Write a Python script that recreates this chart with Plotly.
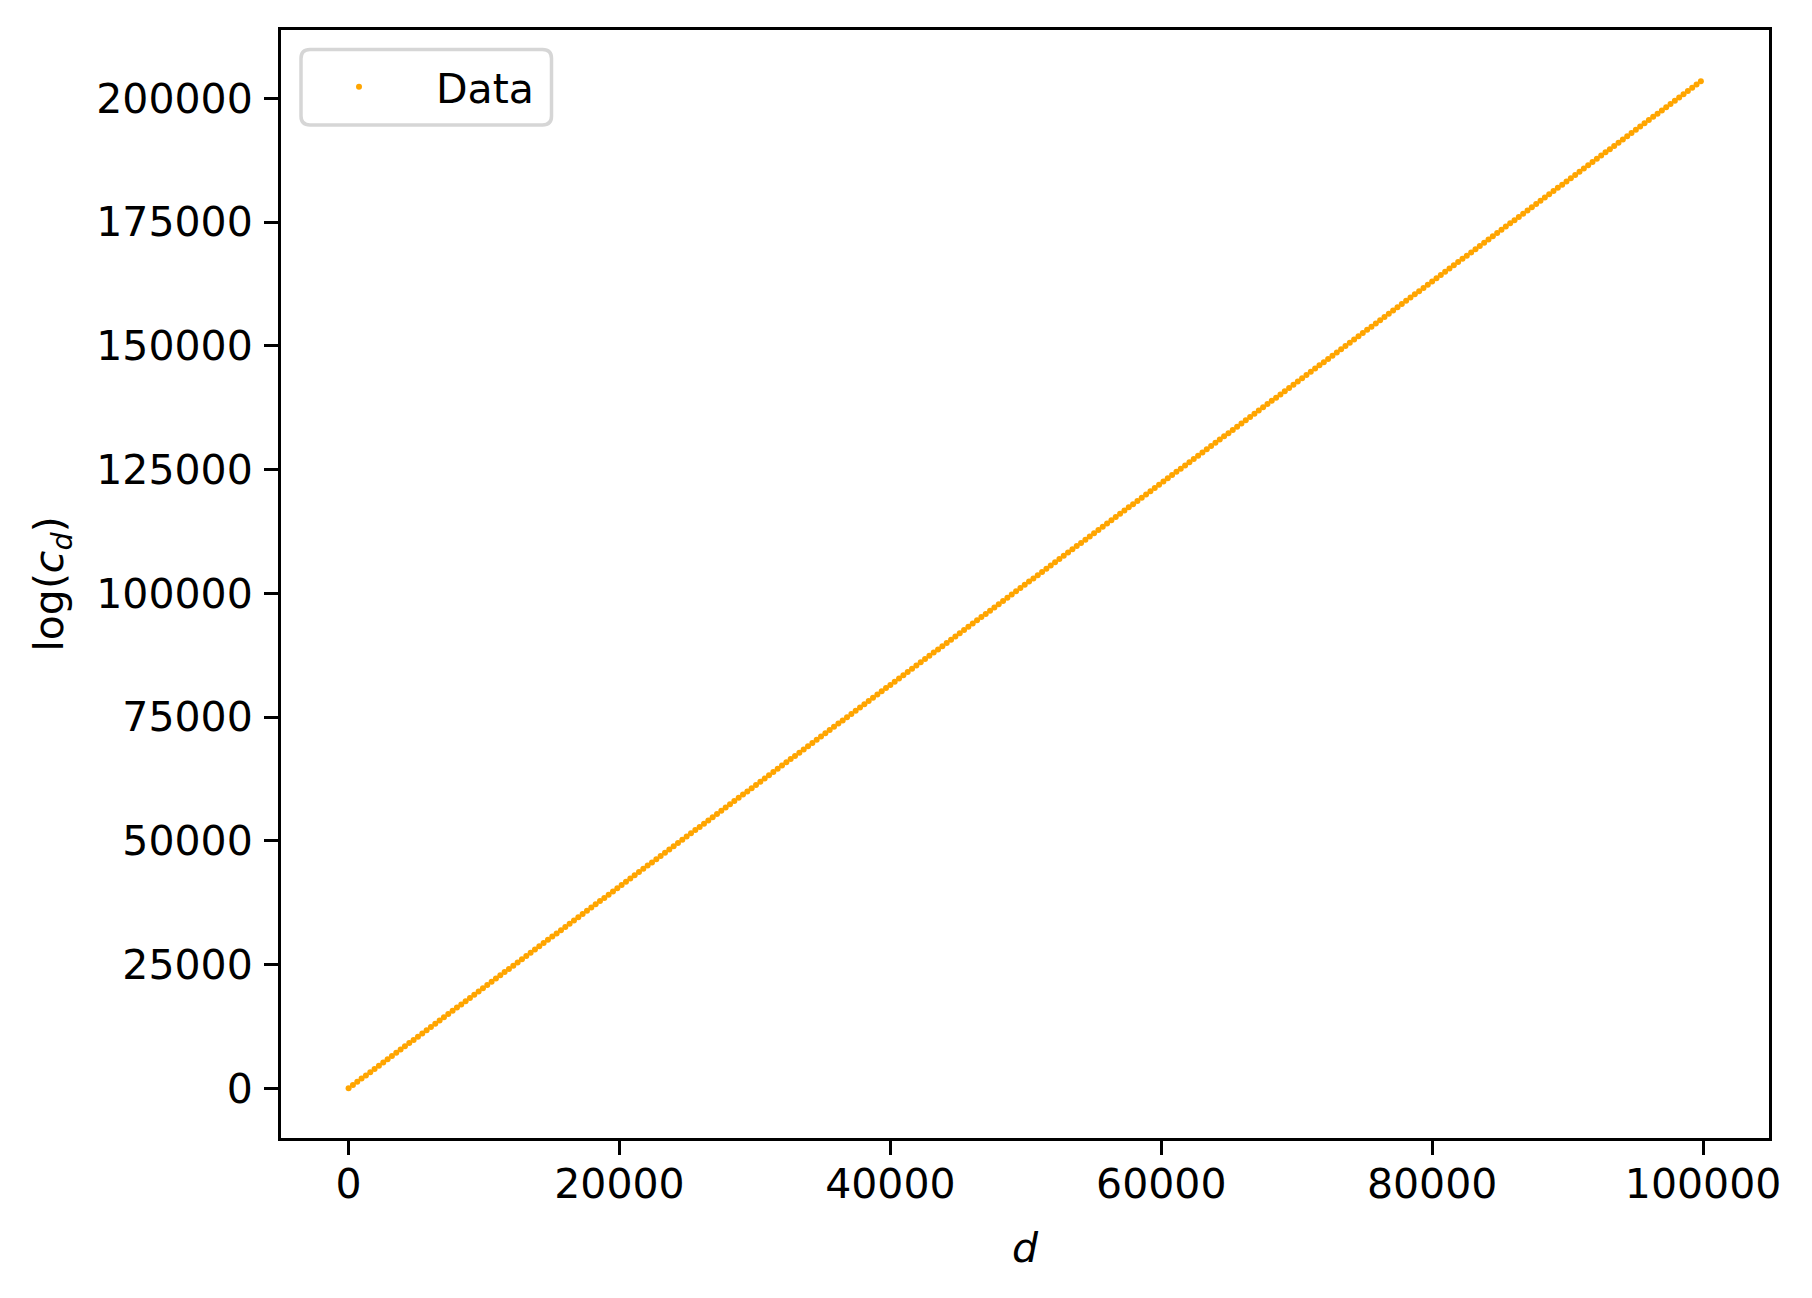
import plotly.graph_objects as go

# ---- data ----
d_values = [
    0, 320, 640, 960, 1280, 1600, 1920, 2240, 2560, 2880,
    3200, 3520, 3840, 4160, 4480, 4800, 5120, 5440, 5760, 6080,
    6400, 6720, 7040, 7360, 7680, 8000, 8320, 8640, 8960, 9280,
    9600, 9920, 10240, 10560, 10880, 11200, 11520, 11840, 12160, 12480,
    12800, 13120, 13440, 13760, 14080, 14400, 14720, 15040, 15360, 15680,
    16000, 16320, 16640, 16960, 17280, 17600, 17920, 18240, 18560, 18880,
    19200, 19520, 19840, 20160, 20480, 20800, 21120, 21440, 21760, 22080,
    22400, 22720, 23040, 23360, 23680, 24000, 24320, 24640, 24960, 25280,
    25600, 25920, 26240, 26560, 26880, 27200, 27520, 27840, 28160, 28480,
    28800, 29120, 29440, 29760, 30080, 30400, 30720, 31040, 31360, 31680,
    32000, 32320, 32640, 32960, 33280, 33600, 33920, 34240, 34560, 34880,
    35200, 35520, 35840, 36160, 36480, 36800, 37120, 37440, 37760, 38080,
    38400, 38720, 39040, 39360, 39680, 40000, 40320, 40640, 40960, 41280,
    41600, 41920, 42240, 42560, 42880, 43200, 43520, 43840, 44160, 44480,
    44800, 45120, 45440, 45760, 46080, 46400, 46720, 47040, 47360, 47680,
    48000, 48320, 48640, 48960, 49280, 49600, 49920, 50240, 50560, 50880,
    51200, 51520, 51840, 52160, 52480, 52800, 53120, 53440, 53760, 54080,
    54400, 54720, 55040, 55360, 55680, 56000, 56320, 56640, 56960, 57280,
    57600, 57920, 58240, 58560, 58880, 59200, 59520, 59840, 60160, 60480,
    60800, 61120, 61440, 61760, 62080, 62400, 62720, 63040, 63360, 63680,
    64000, 64320, 64640, 64960, 65280, 65600, 65920, 66240, 66560, 66880,
    67200, 67520, 67840, 68160, 68480, 68800, 69120, 69440, 69760, 70080,
    70400, 70720, 71040, 71360, 71680, 72000, 72320, 72640, 72960, 73280,
    73600, 73920, 74240, 74560, 74880, 75200, 75520, 75840, 76160, 76480,
    76800, 77120, 77440, 77760, 78080, 78400, 78720, 79040, 79360, 79680,
    80000, 80320, 80640, 80960, 81280, 81600, 81920, 82240, 82560, 82880,
    83200, 83520, 83840, 84160, 84480, 84800, 85120, 85440, 85760, 86080,
    86400, 86720, 87040, 87360, 87680, 88000, 88320, 88640, 88960, 89280,
    89600, 89920, 90240, 90560, 90880, 91200, 91520, 91840, 92160, 92480,
    92800, 93120, 93440, 93760, 94080, 94400, 94720, 95040, 95360, 95680,
    96000, 96320, 96640, 96960, 97280, 97600, 97920, 98240, 98560, 98880,
    99200, 99520, 99840,
]

log_c_values = [
    0, 652, 1304, 1956, 2608, 3260, 3912, 4564, 5216, 5868,
    6520, 7172, 7824, 8476, 9128, 9780, 10432, 11084, 11736, 12388,
    13040, 13692, 14344, 14996, 15648, 16300, 16952, 17604, 18256, 18908,
    19560, 20212, 20864, 21516, 22168, 22820, 23472, 24124, 24776, 25428,
    26080, 26732, 27384, 28036, 28688, 29340, 29992, 30644, 31296, 31948,
    32600, 33252, 33904, 34556, 35208, 35860, 36512, 37164, 37816, 38468,
    39120, 39772, 40424, 41076, 41728, 42380, 43032, 43684, 44336, 44988,
    45640, 46292, 46944, 47596, 48248, 48900, 49552, 50204, 50856, 51508,
    52160, 52812, 53464, 54116, 54768, 55420, 56072, 56724, 57376, 58028,
    58680, 59332, 59984, 60636, 61288, 61940, 62592, 63244, 63896, 64548,
    65200, 65852, 66504, 67156, 67808, 68460, 69112, 69764, 70416, 71068,
    71720, 72372, 73024, 73676, 74328, 74980, 75632, 76284, 76936, 77588,
    78240, 78892, 79544, 80196, 80848, 81500, 82152, 82804, 83456, 84108,
    84760, 85412, 86064, 86716, 87368, 88020, 88672, 89324, 89976, 90628,
    91280, 91932, 92584, 93236, 93888, 94540, 95192, 95844, 96496, 97148,
    97800, 98452, 99104, 99756, 100408, 101060, 101712, 102364, 103016, 103668,
    104320, 104972, 105624, 106276, 106928, 107580, 108232, 108884, 109536, 110188,
    110840, 111492, 112144, 112796, 113448, 114100, 114752, 115404, 116056, 116708,
    117360, 118012, 118664, 119316, 119968, 120620, 121272, 121924, 122576, 123228,
    123880, 124532, 125184, 125836, 126488, 127140, 127792, 128444, 129096, 129748,
    130400, 131052, 131704, 132356, 133008, 133660, 134312, 134964, 135616, 136268,
    136920, 137572, 138224, 138876, 139528, 140180, 140832, 141484, 142136, 142788,
    143440, 144092, 144744, 145396, 146048, 146700, 147352, 148004, 148656, 149308,
    149960, 150612, 151264, 151916, 152568, 153220, 153872, 154524, 155176, 155828,
    156480, 157132, 157784, 158436, 159088, 159740, 160392, 161044, 161696, 162348,
    163000, 163652, 164304, 164956, 165608, 166260, 166912, 167564, 168216, 168868,
    169520, 170172, 170824, 171476, 172128, 172780, 173432, 174084, 174736, 175388,
    176040, 176692, 177344, 177996, 178648, 179300, 179952, 180604, 181256, 181908,
    182560, 183212, 183864, 184516, 185168, 185820, 186472, 187124, 187776, 188428,
    189080, 189732, 190384, 191036, 191688, 192340, 192992, 193644, 194296, 194948,
    195600, 196252, 196904, 197556, 198208, 198860, 199512, 200164, 200816, 201468,
    202120, 202772, 203424,
]

x_ticks = [0, 20000, 40000, 60000, 80000, 100000]
y_ticks = [0, 25000, 50000, 75000, 100000, 125000, 150000, 175000, 200000]
series_name = "Data"

# ---- layout geometry (pixels, in page coordinates; page body has 8px margin) ----
OFF = 8
W, H = 1812 - OFF, 1298 - OFF
L, R, T, B = 281 - OFF, 1769 - OFF, 30 - OFF, 1138 - OFF
FONT = "DejaVu Sans"
FS = 41

fig = go.Figure()
fig.add_trace(go.Scatter(
    x=d_values, y=log_c_values, mode="markers", name=series_name,
    marker=dict(color="#FFA500", size=6, line=dict(width=0)),
))

# legend frame (rounded rectangle, like matplotlib)
pw, ph = R - L, B - T
def px_x(p):
    return (p - OFF - L) / pw
def px_y(p):
    return (B - (p - OFF)) / ph
bx0, bx1, by0, by1, rad = 301, 551.5, 49.5, 125, 9
x0, x1 = px_x(bx0), px_x(bx1)
y0, y1 = px_y(by1), px_y(by0)  # bottom, top in paper
rx, ry = rad / pw, rad / ph
path = (f"M {x0+rx},{y0} L {x1-rx},{y0} Q {x1},{y0} {x1},{y0+ry} "
        f"L {x1},{y1-ry} Q {x1},{y1} {x1-rx},{y1} "
        f"L {x0+rx},{y1} Q {x0},{y1} {x0},{y1-ry} "
        f"L {x0},{y0+ry} Q {x0},{y0} {x0+rx},{y0} Z")
fig.add_shape(type="path", path=path, xref="paper", yref="paper",
              line=dict(color="#d6d6d6", width=3.5),
              fillcolor="rgba(255,255,255,0.8)", layer="above")

axis_common = dict(
    showgrid=False, zeroline=False, showline=True, linecolor="black",
    linewidth=3, mirror=True, ticks="outside", ticklen=14, tickwidth=3,
    tickcolor="black", tickfont=dict(family=FONT, size=FS, color="black"),
    tickformat="d",
)

fig.update_layout(
    width=W, height=H,
    margin=dict(l=L, r=W - R, t=T, b=H - B, autoexpand=False),
    paper_bgcolor="white", plot_bgcolor="white",
    font=dict(family=FONT, size=FS, color="black"),
    xaxis=dict(range=[-4990, 104870], tickvals=x_ticks,
               title=dict(text="<i>d</i>", standoff=27,
                          font=dict(family=FONT, size=FS)),
               ticklabelstandoff=-6, **axis_common),
    yaxis=dict(range=[-10040, 213800], tickvals=y_ticks,
               title=dict(text="log(<i>c</i><sub><i>d</i></sub>)", standoff=20,
                          font=dict(family=FONT, size=FS)),
               ticklabelstandoff=3, **axis_common),
    showlegend=True,
    legend=dict(x=px_x(282), xanchor="left", y=px_y(87), yanchor="middle",
                bgcolor="rgba(0,0,0,0)", borderwidth=0, itemwidth=144,
                font=dict(family=FONT, size=FS, color="black")),
)

fig.write_html("out.html")
